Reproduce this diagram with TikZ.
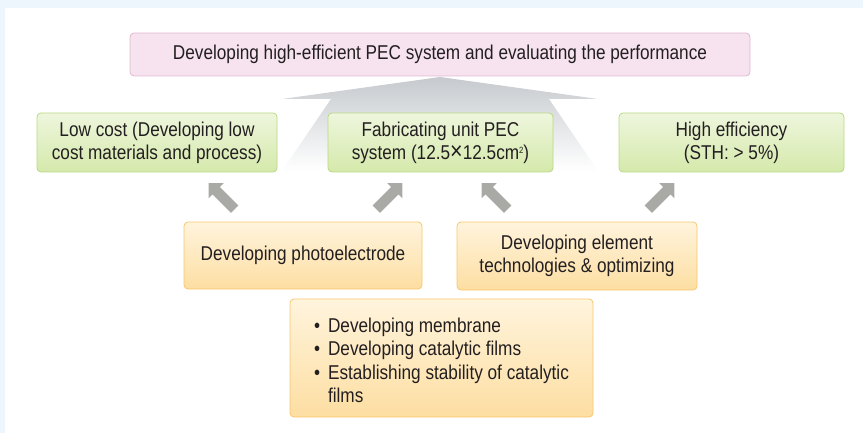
\documentclass[tikz,border=0pt]{standalone}
\usepackage{fontspec}
\setmainfont{Liberation Sans}[FakeStretch=0.86]
\usepackage{xcolor}
\usepackage{tikz}
\usetikzlibrary{shapes.arrows}

\definecolor{bgblue}{HTML}{EEF6FD}
\definecolor{pinkfill}{HTML}{F6E3EF}
\definecolor{pinkline}{HTML}{E2B8D2}
\definecolor{greentop}{HTML}{EEF6DD}
\definecolor{greenbot}{HTML}{D5E9AB}
\definecolor{greenline}{HTML}{B9D985}
\definecolor{orangetop}{HTML}{FFF4DD}
\definecolor{orangebot}{HTML}{FDDEA2}
\definecolor{orangeline}{HTML}{F8C76B}
\definecolor{arrowgray}{HTML}{A9A9A5}
\definecolor{biggray}{HTML}{C6CACE}
\definecolor{textdark}{HTML}{231F20}

\begin{document}
\begin{tikzpicture}[x=1pt, y=-1pt,
  every node/.style={font=\fontsize{20}{23}\selectfont, text=textdark, align=center},
  goalbox/.style={draw=pinkline, line width=0.8pt, rounded corners=4pt, fill=pinkfill,
                  minimum width=620pt, minimum height=43pt},
  targetbox/.style={draw=greenline, line width=0.8pt, rounded corners=4pt,
                    top color=greentop, bottom color=greenbot,
                    minimum width=225pt, minimum height=59pt},
  taskbox/.style={draw=orangeline, line width=0.8pt, rounded corners=4pt,
                  top color=orangetop, bottom color=orangebot},
  uparrow/.style={single arrow, fill=arrowgray, draw=none, inner xsep=0pt, inner ysep=5pt,
                  minimum height=37pt,
                  single arrow head extend=5.5pt, single arrow head indent=0pt}]
  \useasboundingbox (0,0) rectangle (863,433);
  \fill[bgblue] (0,0) rectangle (863,8);
  \fill[bgblue] (0,0) rectangle (5,433);

  % big arrow behind the middle box
  \shade[top color=biggray, middle color=biggray!55, bottom color=white]
    (440,77) -- (598,99) -- (549,99) -- (598,171) -- (282,171) -- (331,99) -- (282,99) -- cycle;

  \node[goalbox] (goal) at (440,54.5)
    {Developing high-efficient PEC system and evaluating the performance};

  \node[targetbox, minimum width=240pt] (cost) at (157,142.5)
    {Low cost (Developing low\\cost materials and process)};
  \node[targetbox] (unit) at (440.5,142.5)
    {Fabricating unit PEC\\system (12.5{\fontsize{25}{23}\selectfont ×}12.5cm\raisebox{6pt}{\fontsize{9}{9}\selectfont 2})};
  \node[targetbox] (eff) at (731.5,142.5)
    {High efficiency\\(STH: > 5\%)};

  \node[uparrow, rotate=135] (arr1) at (223.5,198) {};
  \node[uparrow, rotate=45]  (arr2) at (387.5,198) {};
  \node[uparrow, rotate=135] (arr3) at (496.5,198) {};
  \node[uparrow, rotate=45]  (arr4) at (659.5,198) {};

  \node[taskbox, minimum width=238pt, minimum height=67pt] (photo) at (303,255.5)
    {Developing photoelectrode};
  \node[taskbox, minimum width=240pt, minimum height=68pt] (elem) at (577,256)
    {Developing element\\technologies \& optimizing};
  \node[taskbox, minimum width=303pt, minimum height=118pt, align=left,
        font=\fontsize{20}{23.5}\selectfont] (films) at (441.5,358)
    {\rule{0pt}{19pt}\makebox[14pt][l]{•}Developing membrane\\
     \makebox[14pt][l]{•}Developing catalytic films\\
     \makebox[14pt][l]{•}Establishing stability of catalytic\\
     \hspace*{14pt}films};
\end{tikzpicture}
\end{document}
